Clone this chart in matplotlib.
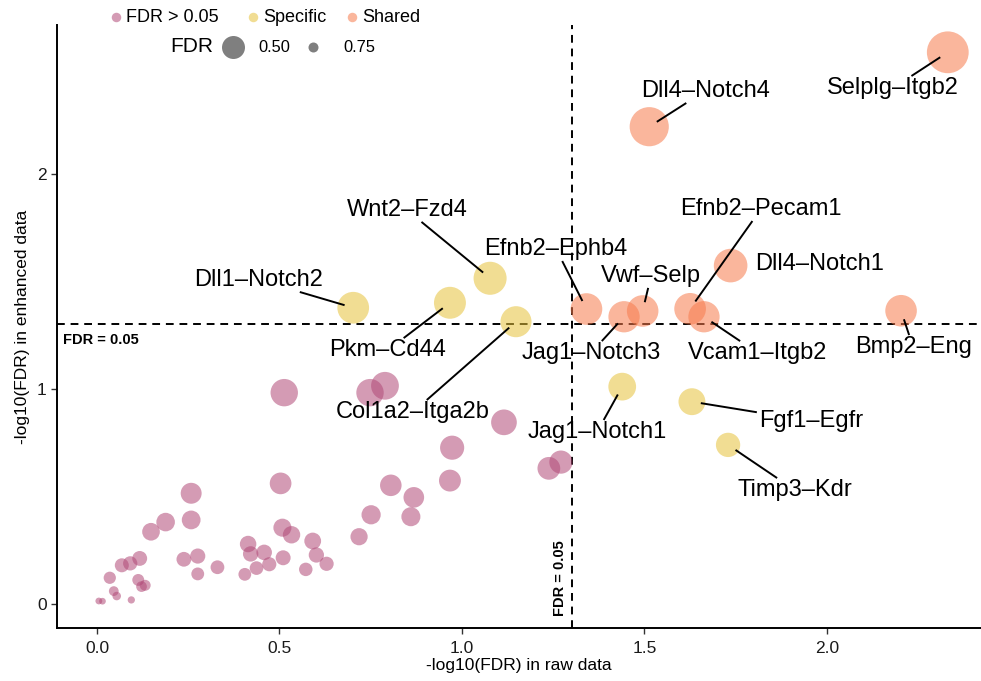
import numpy as np
import matplotlib
matplotlib.use('Agg')
import matplotlib.pyplot as plt
from matplotlib.lines import Line2D

plt.rcParams['font.family'] = ['Liberation Sans', 'DejaVu Sans']

# -log10(FDR) of labelled ligand-receptor pairs: raw data vs enhanced data
pair_names = ['Selplg–Itgb2', 'Dll4–Notch4', 'Dll4–Notch1', 'Bmp2–Eng',
              'Efnb2–Pecam1', 'Vcam1–Itgb2', 'Vwf–Selp', 'Jag1–Notch3',
              'Efnb2–Ephb4', 'Jag1–Notch1', 'Fgf1–Egfr', 'Timp3–Kdr',
              'Dll1–Notch2', 'Pkm–Cd44', 'Wnt2–Fzd4', 'Col1a2–Itga2b']
pair_raw = [2.331, 1.513, 1.736, 2.203, 1.625, 1.663, 1.495, 1.444,
            1.341, 1.439, 1.630, 1.729, 0.702, 0.967, 1.077, 1.148]
pair_enh = [2.566, 2.220, 1.574, 1.364, 1.373, 1.336, 1.363, 1.336,
            1.372, 1.011, 0.941, 0.740, 1.378, 1.401, 1.515, 1.313]

# remaining pairs, not significant in either data set
other_raw = [0.513, 0.748, 0.789, 0.503, 0.805, 0.868, 0.860, 0.751, 0.718, 0.508,
             0.533, 0.591, 0.601, 0.629, 0.572, 0.510, 0.472, 0.458, 0.437, 0.405,
             0.414, 0.421, 0.258, 0.188, 0.258, 0.148, 0.117, 0.091, 0.068, 0.035,
             0.046, 0.054, 0.005, 0.015, 0.094, 0.113, 0.122, 0.132, 0.238, 0.276,
             0.276, 0.330, 1.115, 0.973, 0.967, 1.238, 1.271]
other_enh = [0.983, 0.983, 1.015, 0.561, 0.552, 0.496, 0.406, 0.415, 0.313, 0.355,
             0.322, 0.293, 0.228, 0.187, 0.161, 0.215, 0.185, 0.240, 0.167, 0.138,
             0.279, 0.233, 0.515, 0.381, 0.391, 0.336, 0.212, 0.189, 0.180, 0.122,
             0.060, 0.037, 0.014, 0.013, 0.019, 0.112, 0.081, 0.087, 0.208, 0.223,
             0.140, 0.171, 0.845, 0.727, 0.574, 0.631, 0.660]

groups = ['FDR > 0.05', 'Specific', 'Shared']
group_colors = {'FDR > 0.05': '#B14977', 'Specific': '#E6C23A', 'Shared': '#F77A4C'}
alpha = 0.55

# where the repelled labels sit (data coords)
label_xy = {
    'Selplg–Itgb2': (2.181, 2.400), 'Dll4–Notch4': (1.666, 2.386),
    'Efnb2–Pecam1': (1.819, 1.837), 'Dll4–Notch1': (1.981, 1.581),
    'Bmp2–Eng': (2.236, 1.195), 'Vcam1–Itgb2': (1.811, 1.167),
    'Vwf–Selp': (1.518, 1.526), 'Jag1–Notch3': (1.353, 1.167),
    'Efnb2–Ephb4': (1.258, 1.651), 'Jag1–Notch1': (1.370, 0.800),
    'Fgf1–Egfr': (1.956, 0.851), 'Timp3–Kdr': (1.912, 0.530),
    'Wnt2–Fzd4': (0.849, 1.833), 'Dll1–Notch2': (0.444, 1.507),
    'Pkm–Cd44': (0.797, 1.181), 'Col1a2–Itga2b': (0.866, 0.893),
}
no_segment = {'Dll4–Notch1'}

thr = -np.log10(0.05)
W, H = 981, 681


def status(r, e):
    n = int(r > thr) + int(e > thr)
    return groups[n]


def marker_area(enh):
    # bigger dot for smaller enhanced FDR; radius in pixels -> points^2
    r_px = 2.0 + 11.8 * np.sqrt(np.asarray(enh))
    return (2 * r_px * 72 / 100) ** 2


raw = np.array(other_raw + pair_raw)
enh = np.array(other_enh + pair_enh)
stat = np.array([status(r, e) for r, e in zip(raw, enh)])

fig = plt.figure(figsize=(W / 100, H / 100), dpi=100)
ax = fig.add_axes([57 / W, 1 - 628 / H, (W - 57) / W, (628 - 25) / H])

for g in groups:
    m = stat == g
    ax.scatter(raw[m], enh[m], s=marker_area(enh[m]), color=group_colors[g],
               alpha=alpha, edgecolors='none', zorder=2)

ax.axvline(thr, color='black', lw=1.4, ls=(0, (4, 3)), zorder=1)
ax.axhline(thr, color='black', lw=1.4, ls=(0, (4, 3)), zorder=1)
ax.text(-0.093, 1.228, 'FDR = 0.05', fontsize=10.5, fontweight='bold',
        ha='left', va='center')
ax.text(1.268, 0.121, 'FDR = 0.05', fontsize=10.5, fontweight='bold',
        ha='center', va='center', rotation=90)

ax.set_xlim(-0.1096, 2.422)
ax.set_ylim(-0.1116, 2.693)
ax.set_xticks([0, 0.5, 1.0, 1.5, 2.0])
ax.set_xticklabels(['0.0', '0.5', '1.0', '1.5', '2.0'])
ax.set_yticks([0, 1, 2])
for s in ['top', 'right']:
    ax.spines[s].set_visible(False)
for s in ['left', 'bottom']:
    ax.spines[s].set_linewidth(1.4)
ax.tick_params(length=4, width=1, color='#333333',
               labelsize=12.5, labelcolor='#1a1a1a')
ax.tick_params(axis='x', pad=5.5)
ax.tick_params(axis='y', pad=3.5)
ax.set_xlabel('-log10(FDR) in raw data', fontsize=12.5, labelpad=1.5)
ax.set_ylabel('-log10(FDR) in enhanced data', fontsize=12.5, labelpad=5)

texts = []
for name, r, e in zip(pair_names, pair_raw, pair_enh):
    lx, ly = label_xy[name]
    t = ax.text(lx, ly, name, fontsize=17, ha='center', va='center', zorder=5)
    texts.append((t, r, e, name))

# legend, drawn in pixel positions of the figure
def fpos(x, y):
    return x / W, 1 - y / H


def key(x, y, color, d_px, a):
    fx, fy = fpos(x, y)
    fig.add_artist(Line2D([fx], [fy], transform=fig.transFigure, marker='o',
                          ls='none', ms=d_px * 0.72, markerfacecolor=color,
                          markeredgecolor='none', alpha=a))


for g, kx in zip(groups, [116, 253, 352]):
    key(kx, 17, group_colors[g], 9.5, alpha)
    fig.text(*fpos(kx + 10, 17), g, fontsize=13, ha='left', va='center')
fig.text(*fpos(170, 47), 'FDR', fontsize=15, ha='left', va='center')
key(233, 47, 'black', 23, 0.5)
fig.text(*fpos(258, 47), '0.50', fontsize=11.8, ha='left', va='center')
key(313, 47, 'black', 10, 0.5)
fig.text(*fpos(343, 47), '0.75', fontsize=11.8, ha='left', va='center')

# connector segments from each point towards its label box
fig.canvas.draw()
renderer = fig.canvas.get_renderer()
to_data = ax.transData.inverted()
for t, r, e, name in texts:
    if name in no_segment:
        continue
    bb = t.get_window_extent(renderer)
    px, py = ax.transData.transform((r, e))
    cx, cy = (bb.x0 + bb.x1) / 2, (bb.y0 + bb.y1) / 2
    dx, dy = px - cx, py - cy
    hw, hh = bb.width / 2 + 2, bb.height / 2 + 1
    if abs(dx) <= hw and abs(dy) <= hh:
        continue
    tx = hw / abs(dx) if dx != 0 else np.inf
    ty = hh / abs(dy) if dy != 0 else np.inf
    k = min(tx, ty)
    ex, ey = cx + k * dx, cy + k * dy
    dist = np.hypot(ex - px, ey - py)
    if dist < 12:
        continue
    ux, uy = (ex - px) / dist, (ey - py) / dist
    seg = to_data.transform([(px + ux * 9, py + uy * 9), (ex, ey)])
    ax.plot(seg[:, 0], seg[:, 1], color='black', lw=1.4, zorder=4,
            solid_capstyle='butt')

fig.savefig('out.png', dpi=100)
